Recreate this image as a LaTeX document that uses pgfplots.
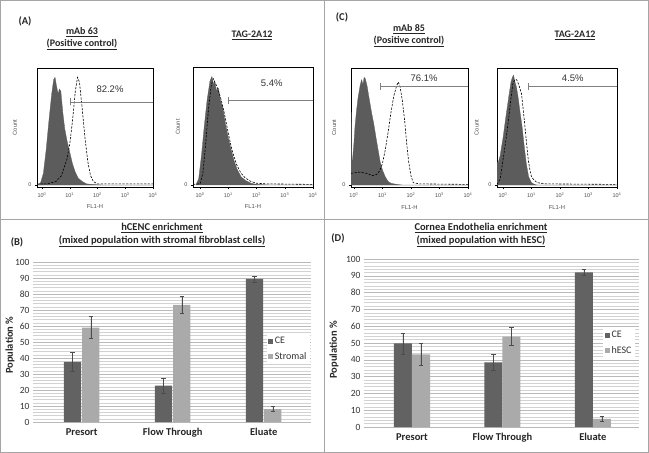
\documentclass[border=0pt]{standalone}
\usepackage{pgfplots}
\pgfplotsset{compat=1.18}
\usepackage{fontspec}
\setmainfont{Carlito}
\newfontfamily\arial{Liberation Sans}
\definecolor{histgray}{RGB}{92,92,92}
\definecolor{cegray}{RGB}{98,98,98}
\definecolor{stgray}{RGB}{170,170,170}
\definecolor{framegray}{RGB}{165,165,165}

\tikzset{pct/.style={font=\arial\fontsize{9.5}{10}\selectfont, text=black!80},
  ttl/.style={font=\bfseries\fontsize{10.5}{12.5}\selectfont, text=black!85, align=center}}
\pgfplotsset{
 facs/.style={scale only axis, anchor=south west, ymin=-1.7, ymax=100, xmax=4,
  axis line style={black, line width=0.5pt},
  xtick={0,1,2,3,4},
  xticklabels={10\textsuperscript{0},10\textsuperscript{1},10\textsuperscript{2},10\textsuperscript{3},10\textsuperscript{4}},
  minor xtick={0.301,0.477,0.602,0.699,0.778,0.845,0.903,0.954,1.301,1.477,1.602,1.699,1.778,1.845,1.903,1.954,2.301,2.477,2.602,2.699,2.778,2.845,2.903,2.954,3.301,3.477,3.602,3.699,3.778,3.845,3.903,3.954},
  tick align=outside, xtick pos=bottom, ytick pos=left, ytick={0}, yticklabels={0},
  major tick length=2pt, minor tick length=1.2pt,
  tick style={black, line width=0.3pt},
  ticklabel style={font=\arial\fontsize{5.5}{6}\selectfont, text=black!70},
  xlabel={FL1-H}, ylabel={Count},
  label style={font=\arial\fontsize{5.8}{6}\selectfont, text=black!70},
 },
 histfill/.style={fill=histgray, draw=histgray, line width=0.3pt},
 histdash/.style={black, line width=0.6pt, dash pattern=on 2.2pt off 1.4pt},
 gate/.style={gray, line width=0.6pt},
 bars/.style={scale only axis, anchor=south west, ymin=0, ymax=100,
  xtick={0,1,2}, xticklabels={Presort,Flow Through,Eluate},
  ytick={0,10,...,100}, minor ytick={2,4,...,98},
  ymajorgrids, yminorgrids,
  major grid style={gray!55, line width=0.5pt},
  minor grid style={gray!35, line width=0.4pt},
  axis line style={draw=none}, major tick length=0pt, minor tick length=0pt,
  /pgf/number format/assume math mode=true,
  yticklabel style={font=\fontsize{9.5}{10}\selectfont, text=black!80},
  xticklabel style={font=\bfseries\fontsize{10.5}{12}\selectfont, text=black!85, yshift=-3pt},
  ylabel={Population \%},
  ylabel style={font=\bfseries\fontsize{10.5}{12}\selectfont, text=black!85, anchor=center},
  legend cell align=left,
  legend image code/.code={\fill[##1] (0pt,-2.3pt) rectangle (4.6pt,2.3pt);},
  legend style={draw=none, fill=white, font=\fontsize{10}{12}\selectfont, text=black!80, row sep=3pt, inner sep=1.5pt, anchor=west},
 },
 ebar/.style={error bars/.cd, y dir=both, y explicit,
  error bar style={black!70, line width=0.5pt},
  error mark options={black!70, line width=0.5pt, mark size=2.2pt, rotate=90}},
}

\begin{document}
\begin{tikzpicture}
\useasboundingbox (0,0) rectangle (649pt,-453pt);
\draw[framegray, line width=1pt] (0.5pt,-0.5pt) rectangle (648.5pt,-452.5pt);
\draw[framegray, line width=1pt] (324pt,0) -- (324pt,-453pt);
\draw[framegray, line width=1pt] (0,-219pt) -- (649pt,-219pt);

% ---- panel titles
\node[ttl] at (25pt,-21pt) {(A)};
\node[ttl] at (342pt,-17pt) {(C)};
\node[ttl] at (17pt,-242pt) {(B)};
\node[ttl] at (338pt,-238pt) {(D)};
\node[ttl, font=\bfseries\fontsize{10}{12}\selectfont] at (82pt,-39pt) {\underline{mAb 63}\\\underline{(Positive control)}};
\node[ttl, font=\bfseries\fontsize{10}{12}\selectfont] at (252pt,-35pt) {\underline{TAG-2A12}};
\node[ttl, font=\bfseries\fontsize{10}{12}\selectfont] at (409pt,-36pt) {\underline{mAb 85}\\\underline{(Positive control)}};
\node[ttl, font=\bfseries\fontsize{10}{12}\selectfont] at (575pt,-35pt) {\underline{TAG-2A12}};
\node[ttl] at (162pt,-235pt) {\underline{hCENC enrichment}\\\underline{(mixed population with stromal fibroblast cells)}};
\node[ttl] at (481pt,-235pt) {\underline{Cornea Endothelia enrichment}\\\underline{(mixed population with hESC)}};

% ---- A1
\begin{axis}[facs, at={(37pt,-187pt)}, width=116pt, height=119pt, xmin=-0.18,
  ylabel style={at={(axis description cs:-0.19,0.5)}, anchor=center},
  xlabel style={at={(axis description cs:0.5,-0.16)}, anchor=center}]
\addplot[histfill] coordinates {(-0.15,0) (-0.05,2) (0.05,10) (0.15,30) (0.25,55) (0.35,78) (0.42,90) (0.47,92) (0.52,85) (0.58,78) (0.63,82) (0.68,80) (0.75,62) (0.82,48) (0.9,38) (1.0,28) (1.1,18) (1.2,11) (1.3,6) (1.45,3) (1.6,1) (1.8,0.5) (2.2,0) (4,0)} \closedcycle;
\addplot[histdash] coordinates {(-0.18,1) (0.2,1) (0.5,3) (0.7,8) (0.9,22) (1.0,35) (1.1,55) (1.2,80) (1.28,92) (1.35,88) (1.45,65) (1.55,40) (1.65,20) (1.75,8) (1.85,3) (2.0,1) (4,1)};
\addplot[gate] coordinates {(1.03,71) (4,71)};
\addplot[gate] coordinates {(1.03,68) (1.03,74)};
\node[pct] at (axis cs:2.45,82) {82.2\%};
\end{axis}

% ---- A2
\begin{axis}[facs, at={(193pt,-187pt)}, width=120pt, height=120pt, xmin=-0.25,
  ylabel style={at={(axis description cs:-0.125,0.5)}, anchor=center},
  xlabel style={at={(axis description cs:0.5,-0.16)}, anchor=center}]
\addplot[histfill] coordinates {(-0.15,0) (-0.05,5) (0.05,25) (0.15,50) (0.25,72) (0.35,88) (0.42,92) (0.48,85) (0.52,88) (0.58,80) (0.65,82) (0.72,72) (0.8,66) (0.9,52) (1.0,40) (1.1,30) (1.2,21) (1.3,14) (1.45,7) (1.6,4) (1.8,1.5) (2.0,0.5) (2.5,0) (4,0)} \closedcycle;
\addplot[histdash] coordinates {(-0.25,0.5) (0.0,1) (0.1,10) (0.2,35) (0.3,65) (0.4,85) (0.47,90) (0.55,86) (0.65,80) (0.75,72) (0.85,62) (0.95,50) (1.05,38) (1.15,28) (1.3,17) (1.45,10) (1.6,6) (1.8,3) (2.0,1.5) (2.3,1) (4,0.5)};
\addplot[gate] coordinates {(1.0,72) (4,72)};
\addplot[gate] coordinates {(1.0,69) (1.0,75)};
\node[pct] at (axis cs:2.54,86) {5.4\%};
\end{axis}

% ---- C1
\begin{axis}[facs, at={(351pt,-187pt)}, width=117pt, height=119pt, xmin=-0.1,
  ylabel style={at={(axis description cs:-0.145,0.5)}, anchor=center},
  xlabel style={at={(axis description cs:0.5,-0.17)}, anchor=center}]
\addplot[histfill] coordinates {(-0.1,0) (-0.1,62) (-0.09,62) (-0.08,22) (-0.05,21) (0.0,35) (0.04,50) (0.1,65) (0.15,75) (0.22,85) (0.27,90) (0.32,86) (0.36,92) (0.4,91) (0.46,85) (0.55,72) (0.62,62) (0.7,52) (0.78,40) (0.85,30) (0.92,20) (1.0,13) (1.1,7) (1.2,3) (1.3,1.5) (1.5,0.5) (1.7,0) (4,0)} \closedcycle;
\addplot[histdash] coordinates {(-0.1,10) (0.2,11) (0.45,10) (0.65,8) (0.8,9) (0.9,12) (1.0,18) (1.1,30) (1.2,45) (1.3,62) (1.4,76) (1.5,85) (1.56,88) (1.62,84) (1.7,72) (1.78,55) (1.85,36) (1.92,20) (2.0,8) (2.08,2) (2.3,1) (4,0.5)};
\addplot[gate] coordinates {(0.91,84) (4,84)};
\addplot[gate] coordinates {(0.91,81) (0.91,87)};
\node[pct] at (axis cs:2.46,91) {76.1\%};
\end{axis}

% ---- C2
\begin{axis}[facs, at={(497pt,-187pt)}, width=120pt, height=119pt, xmin=-0.21,
  ylabel style={at={(axis description cs:-0.17,0.5)}, anchor=center},
  xlabel style={at={(axis description cs:0.5,-0.17)}, anchor=center}]
\addplot[histfill] coordinates {(-0.21,0) (-0.21,20) (-0.18,18) (-0.1,25) (0.0,40) (0.1,58) (0.2,75) (0.28,88) (0.33,92) (0.37,94) (0.42,88) (0.47,84) (0.53,75) (0.6,62) (0.67,50) (0.75,32) (0.82,18) (0.9,7) (1.0,2) (1.1,0.5) (1.2,0) (4,0)} \closedcycle;
\addplot[histdash] coordinates {(-0.21,0.5) (-0.1,5) (0.0,21) (0.1,38) (0.18,53) (0.27,72) (0.35,87) (0.42,90) (0.48,90) (0.55,86) (0.65,78) (0.72,62) (0.77,50) (0.83,35) (0.89,21) (0.95,12) (1.0,7) (1.1,4) (1.2,2) (1.5,1) (4,0.5)};
\addplot[gate] coordinates {(0.88,84) (4,84)};
\addplot[gate] coordinates {(0.88,81) (0.88,87)};
\node[pct] at (axis cs:2.45,91) {4.5\%};
\end{axis}

% ---- B
\begin{axis}[bars, at={(33pt,-422pt)}, width=278pt, height=160pt, xmin=-0.535, xmax=2.52,
  ylabel style={at={(axis description cs:-0.083,0.48)}},
  legend style={at={(axis description cs:0.84,0.456)}}]
\addplot[ybar, bar width=0.19, bar shift=0, fill=cegray, draw=none, ebar]
  table[x=x, y=y, y error=e] {
x y e
-0.1 37.6 6.1
0.9 22.8 4.6
1.9 89.5 1.9
};
\addlegendentry{CE}
\addplot[ybar, bar width=0.19, bar shift=0, fill=stgray, draw=none, ebar]
  table[x=x, y=y, y error=e] {
x y e
0.1 59.0 6.9
1.1 73.2 5.5
2.1 8.1 1.6
};
\addlegendentry{Stromal}
\end{axis}

% ---- D
\begin{axis}[bars, at={(364pt,-427pt)}, width=275pt, height=168pt, xmin=-0.53, xmax=2.51,
  ylabel style={at={(axis description cs:-0.109,0.46)}},
  legend style={at={(axis description cs:0.87,0.5)}}]
\addplot[ybar, bar width=0.2, bar shift=0, fill=cegray, draw=none, ebar]
  table[x=x, y=y, y error=e] {
x y e
-0.1 49.8 6.3
0.9 38.5 4.8
1.9 92.1 2.0
};
\addlegendentry{CE}
\addplot[ybar, bar width=0.2, bar shift=0, fill=stgray, draw=none, ebar]
  table[x=x, y=y, y error=e] {
x y e
0.1 43.3 6.8
1.1 53.8 5.3
2.1 4.8 1.5
};
\addlegendentry{hESC}
\end{axis}
\end{tikzpicture}
\end{document}
